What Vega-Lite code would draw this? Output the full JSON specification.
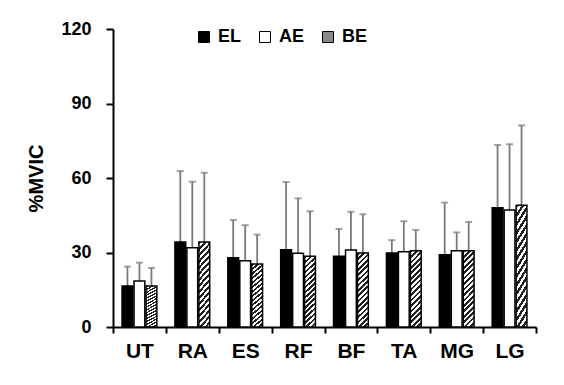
{
  "$schema": "https://vega.github.io/schema/vega-lite/v6.json",
  "autosize": "none",
  "padding": {"left": 113, "top": 29, "right": 28, "bottom": 58},
  "width": 423,
  "height": 298,
  "background": "white",
  "config": {
    "view": {"stroke": null},
    "font": "Liberation Sans"
  },
  "data": {
    "values": [
      {"m": "UT", "c": "EL", "v": 16.5, "hi": 24.3},
      {"m": "UT", "c": "AE", "v": 18.5, "hi": 25.9},
      {"m": "UT", "c": "BE", "v": 16.5, "hi": 23.8},
      {"m": "RA", "c": "EL", "v": 34.2, "hi": 62.8},
      {"m": "RA", "c": "AE", "v": 31.9, "hi": 58.5},
      {"m": "RA", "c": "BE", "v": 34.2, "hi": 62.1},
      {"m": "ES", "c": "EL", "v": 27.9, "hi": 43.1},
      {"m": "ES", "c": "AE", "v": 26.7, "hi": 41.0},
      {"m": "ES", "c": "BE", "v": 25.4, "hi": 37.2},
      {"m": "RF", "c": "EL", "v": 31.1, "hi": 58.4},
      {"m": "RF", "c": "AE", "v": 29.7, "hi": 51.8},
      {"m": "RF", "c": "BE", "v": 28.5, "hi": 46.6},
      {"m": "BF", "c": "EL", "v": 28.5, "hi": 39.5},
      {"m": "BF", "c": "AE", "v": 31.0, "hi": 46.4},
      {"m": "BF", "c": "BE", "v": 29.8, "hi": 45.4},
      {"m": "TA", "c": "EL", "v": 29.8, "hi": 35.0},
      {"m": "TA", "c": "AE", "v": 30.3, "hi": 42.6},
      {"m": "TA", "c": "BE", "v": 30.7, "hi": 39.1},
      {"m": "MG", "c": "EL", "v": 29.1, "hi": 50.1},
      {"m": "MG", "c": "AE", "v": 30.7, "hi": 38.1},
      {"m": "MG", "c": "BE", "v": 30.7, "hi": 42.3},
      {"m": "LG", "c": "EL", "v": 48.0, "hi": 73.3},
      {"m": "LG", "c": "AE", "v": 47.1, "hi": 73.6},
      {"m": "LG", "c": "BE", "v": 49.0, "hi": 81.2}
    ]
  },
  "encoding": {
    "x": {
      "field": "m",
      "type": "nominal",
      "sort": ["UT", "RA", "ES", "RF", "BF", "TA", "MG", "LG"],
      "scale": {"paddingInner": 0, "paddingOuter": 0},
      "axis": {
        "title": null,
        "labelAngle": 0,
        "labelFont": "Liberation Sans",
        "labelFontWeight": "bold",
        "labelFontSize": 21,
        "labelColor": "black",
        "labelPadding": 7,
        "tickBand": "extent",
        "tickSize": 6,
        "tickColor": "black",
        "tickWidth": 2,
        "domainColor": "black",
        "domainWidth": 2
      }
    },
    "xOffset": {
      "field": "c",
      "type": "nominal",
      "sort": ["EL", "AE", "BE"],
      "scale": {"paddingInner": 0.1, "paddingOuter": 0.755}
    }
  },
  "layer": [
    {
      "mark": {"type": "rule", "color": "#7a7a7a", "strokeWidth": 1.8},
      "encoding": {
        "y": {"field": "v", "type": "quantitative"},
        "y2": {"field": "hi"}
      }
    },
    {
      "mark": {"type": "bar", "stroke": "black", "strokeWidth": 1.5},
      "encoding": {
        "y": {
          "field": "v",
          "type": "quantitative",
          "scale": {"domain": [0, 120], "nice": false},
          "axis": {
            "title": "%MVIC",
            "titleFont": "Liberation Sans",
            "titleFontWeight": "bold",
            "titleFontSize": 20,
            "titleColor": "black",
            "titlePadding": 14,
            "values": [0, 30, 60, 90, 120],
            "grid": false,
            "labelFont": "Liberation Sans",
            "labelFontWeight": "bold",
            "labelFontSize": 18,
            "labelColor": "black",
            "labelPadding": 15,
            "tickSize": 7,
            "tickColor": "black",
            "tickWidth": 2,
            "domainColor": "black",
            "domainWidth": 2
          }
        },
        "fill": {
          "condition": {
            "test": "datum.c === 'BE'",
            "value": {
              "gradient": "linear",
              "x1": 0, "y1": 0, "x2": 0.16, "y2": 1.12,
              "stops": [
                {"offset": 0, "color": "#222"}, {"offset": 0.03125, "color": "#222"}, {"offset": 0.03125, "color": "#fff"}, {"offset": 0.0625, "color": "#fff"},
                {"offset": 0.0625, "color": "#222"}, {"offset": 0.09375, "color": "#222"}, {"offset": 0.09375, "color": "#fff"}, {"offset": 0.125, "color": "#fff"},
                {"offset": 0.125, "color": "#222"}, {"offset": 0.15625, "color": "#222"}, {"offset": 0.15625, "color": "#fff"}, {"offset": 0.1875, "color": "#fff"},
                {"offset": 0.1875, "color": "#222"}, {"offset": 0.21875, "color": "#222"}, {"offset": 0.21875, "color": "#fff"}, {"offset": 0.25, "color": "#fff"},
                {"offset": 0.25, "color": "#222"}, {"offset": 0.28125, "color": "#222"}, {"offset": 0.28125, "color": "#fff"}, {"offset": 0.3125, "color": "#fff"},
                {"offset": 0.3125, "color": "#222"}, {"offset": 0.34375, "color": "#222"}, {"offset": 0.34375, "color": "#fff"}, {"offset": 0.375, "color": "#fff"},
                {"offset": 0.375, "color": "#222"}, {"offset": 0.40625, "color": "#222"}, {"offset": 0.40625, "color": "#fff"}, {"offset": 0.4375, "color": "#fff"},
                {"offset": 0.4375, "color": "#222"}, {"offset": 0.46875, "color": "#222"}, {"offset": 0.46875, "color": "#fff"}, {"offset": 0.5, "color": "#fff"},
                {"offset": 0.5, "color": "#222"}, {"offset": 0.53125, "color": "#222"}, {"offset": 0.53125, "color": "#fff"}, {"offset": 0.5625, "color": "#fff"},
                {"offset": 0.5625, "color": "#222"}, {"offset": 0.59375, "color": "#222"}, {"offset": 0.59375, "color": "#fff"}, {"offset": 0.625, "color": "#fff"},
                {"offset": 0.625, "color": "#222"}, {"offset": 0.65625, "color": "#222"}, {"offset": 0.65625, "color": "#fff"}, {"offset": 0.6875, "color": "#fff"},
                {"offset": 0.6875, "color": "#222"}, {"offset": 0.71875, "color": "#222"}, {"offset": 0.71875, "color": "#fff"}, {"offset": 0.75, "color": "#fff"},
                {"offset": 0.75, "color": "#222"}, {"offset": 0.78125, "color": "#222"}, {"offset": 0.78125, "color": "#fff"}, {"offset": 0.8125, "color": "#fff"},
                {"offset": 0.8125, "color": "#222"}, {"offset": 0.84375, "color": "#222"}, {"offset": 0.84375, "color": "#fff"}, {"offset": 0.875, "color": "#fff"},
                {"offset": 0.875, "color": "#222"}, {"offset": 0.90625, "color": "#222"}, {"offset": 0.90625, "color": "#fff"}, {"offset": 0.9375, "color": "#fff"},
                {"offset": 0.9375, "color": "#222"}, {"offset": 0.96875, "color": "#222"}, {"offset": 0.96875, "color": "#fff"}, {"offset": 1, "color": "#fff"}
              ]
            }
          },
          "field": "c",
          "type": "nominal",
          "sort": ["EL", "AE", "BE"],
          "scale": {"domain": ["EL", "AE", "BE"], "range": ["black", "white", "#888"]},
          "legend": {
            "title": null,
            "orient": "none",
            "direction": "horizontal",
            "legendX": 82,
            "legendY": -1,
            "symbolType": "square",
            "symbolSize": 121,
            "symbolStrokeColor": "black",
            "symbolStrokeWidth": 1,
            "symbolOpacity": 1,
            "labelFont": "Liberation Sans",
            "labelFontWeight": "bold",
            "labelFontSize": 18,
            "labelColor": "black",
            "labelOffset": 5,
            "columnPadding": 14,
            "encoding": {
              "symbols": {
                "stroke": {"value": "black"},
                "strokeWidth": {"value": 1},
                "opacity": {"value": 1},
                "fill": {
                  "condition": [
                    {
                      "test": "datum.value === 'BE'",
                      "value": {
                        "gradient": "linear",
                        "x1": 0, "y1": 0, "x2": 1, "y2": 1,
                        "stops": [
                          {"offset": 0, "color": "#222"}, {"offset": 0.125, "color": "#222"}, {"offset": 0.125, "color": "#fff"}, {"offset": 0.25, "color": "#fff"},
                          {"offset": 0.25, "color": "#222"}, {"offset": 0.375, "color": "#222"}, {"offset": 0.375, "color": "#fff"}, {"offset": 0.5, "color": "#fff"},
                          {"offset": 0.5, "color": "#222"}, {"offset": 0.625, "color": "#222"}, {"offset": 0.625, "color": "#fff"}, {"offset": 0.75, "color": "#fff"},
                          {"offset": 0.75, "color": "#222"}, {"offset": 0.875, "color": "#222"}, {"offset": 0.875, "color": "#fff"}, {"offset": 1, "color": "#fff"}
                        ]
                      }
                    },
                    {"test": "datum.value === 'EL'", "value": "black"}
                  ],
                  "value": "white"
                }
              }
            }
          }
        }
      }
    },
    {
      "mark": {"type": "tick", "color": "#7a7a7a", "size": 7, "thickness": 2, "orient": "horizontal"},
      "encoding": {
        "y": {"field": "hi", "type": "quantitative"}
      }
    }
  ]
}
